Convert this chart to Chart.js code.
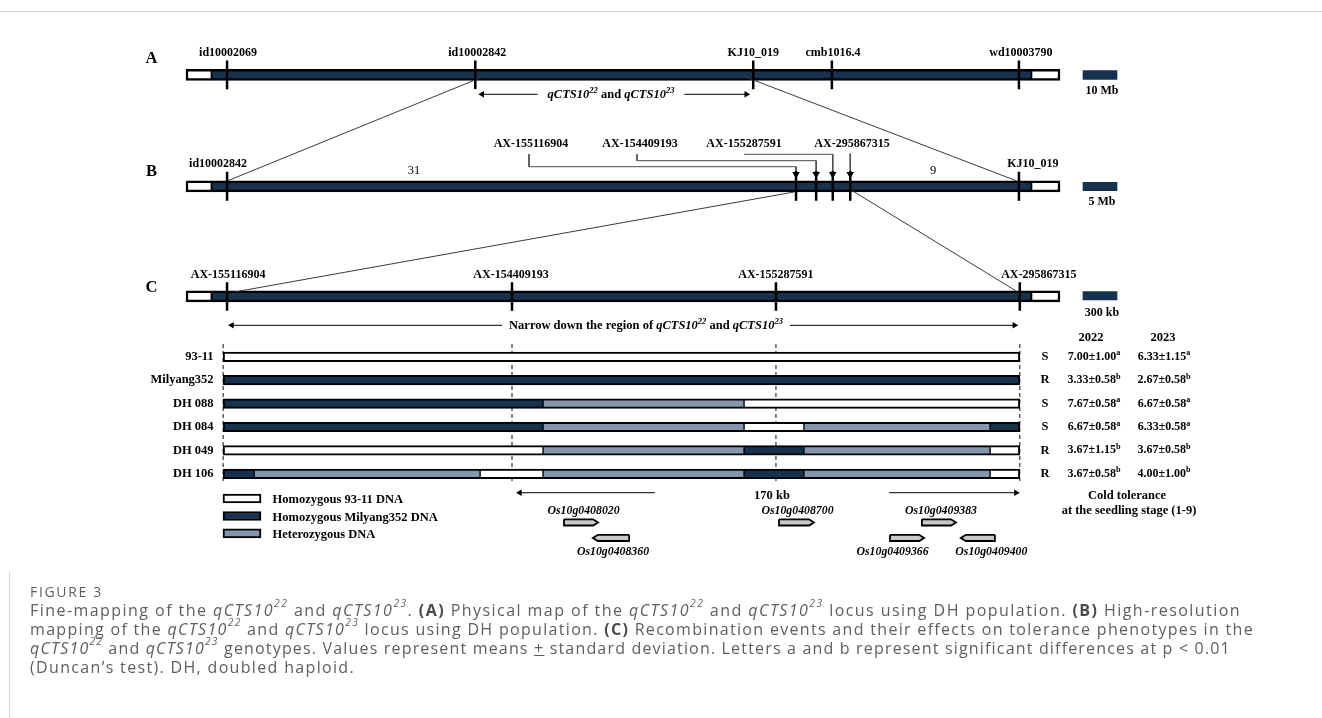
<!DOCTYPE html>
<html>
<head>
<meta charset="utf-8">
<script src="https://cdn.jsdelivr.net/npm/chart.js@4.4.1/dist/chart.umd.min.js"></script>
<style>
html,body{margin:0;padding:0;background:#fff;}
#wrap{position:relative;width:1322px;height:718px;overflow:hidden;background:#fff;}
#c{position:absolute;left:0;top:0;}
#topline{position:absolute;left:0;top:11px;width:1322px;height:0;border-top:1px solid #d6d6d6;}
#leftline{position:absolute;left:9px;top:572px;height:146px;width:0;border-left:1px solid #d6d6d6;}
#cap{position:absolute;left:30px;top:580px;font-family:'Open Sans','Noto Sans',sans-serif;color:#5e5e5e;white-space:nowrap;}
#fig{font-size:14px;line-height:20px;height:20px;display:inline-block;}
.ln{font-size:16px;line-height:19px;height:19px;}
.ln b{color:#4a4a4a;}
.ln sup{font-size:0.64em;line-height:0;position:relative;top:-0.25em;vertical-align:super;}
</style>
</head>
<body>
<div id="wrap">
<canvas id="c" width="1322" height="718"></canvas>
<div id="topline"></div>
<div id="leftline"></div>
<div id="cap">
<div id="fig">FIGURE 3</div>
<div class="ln" style="margin-top:-1px"><span>Fine-mapping of the <i>qCTS10<sup>22</sup></i> and <i>qCTS10<sup>23</sup></i>. <b>(A)</b> Physical map of the <i>qCTS10<sup>22</sup></i> and <i>qCTS10<sup>23</sup></i> locus using DH population. <b>(B)</b> High-resolution</span></div>
<div class="ln"><span>mapping of the <i>qCTS10<sup>22</sup></i> and <i>qCTS10<sup>23</sup></i> locus using DH population. <b>(C)</b> Recombination events and their effects on tolerance phenotypes in the</span></div>
<div class="ln"><span><i>qCTS10<sup>22</sup></i> and <i>qCTS10<sup>23</sup></i> genotypes. Values represent means <u>+</u> standard deviation. Letters a and b represent significant differences at p &lt; 0.01</span></div>
<div class="ln"><span>(Duncan’s test). DH, doubled haploid.</span></div>
</div>
</div>
<script>
// ================= DATA (positions along each map bar, 0–100) =================
const markerNamesA = ['id10002069','id10002842','KJ10_019','cmb1016.4','wd10003790'];
const markerPosA   = [4.7, 33.1, 64.9, 73.9, 95.3];

const markerNamesB = ['id10002842','KJ10_019'];
const markerPosB   = [4.7, 95.3];
const snpNamesB    = ['AX-155116904','AX-154409193','AX-155287591','AX-295867315'];
const snpPosB      = [69.8, 72.1, 74.0, 76.0];
const recombinantsB = ['31','9'];

const markerNamesC = ['AX-155116904','AX-154409193','AX-155287591','AX-295867315'];
const markerPosC   = [4.7, 37.3, 67.5, 95.4];

const scaleLabels = ['10 Mb','5 Mb','300 kb'];

const lineNames   = ['93-11','Milyang352','DH 088','DH 084','DH 049','DH 106'];
const breakpoints = [4.25, 7.8, 33.65, 40.85, 63.85, 70.7, 92.0, 95.4];
// genotype of each interval between breakpoints: W = 93-11, M = Milyang352, H = heterozygous
const genotypes = [
  ['W','W','W','W','W','W','W'],
  ['M','M','M','M','M','M','M'],
  ['M','M','M','H','W','W','W'],
  ['M','M','M','H','W','H','M'],
  ['W','W','W','H','M','H','W'],
  ['M','H','W','H','M','H','W']
];
const reaction  = ['S','R','S','S','R','R'];
const mean2022  = ['7.00','3.33','7.67','6.67','3.67','3.67'];
const sd2022    = ['1.00','0.58','0.58','0.58','1.15','0.58'];
const group2022 = ['a','b','a','a','b','b'];
const mean2023  = ['6.33','2.67','6.67','6.33','3.67','4.00'];
const sd2023    = ['1.15','0.58','0.58','0.58','0.58','1.00'];
const group2023 = ['a','b','a','a','b','b'];

const legendLabels = ['Homozygous 93-11 DNA','Homozygous Milyang352 DNA','Heterozygous DNA'];
const legendCodes  = ['W','M','H'];

const geneNames  = ['Os10g0408020','Os10g0408360','Os10g0408700','Os10g0409383','Os10g0409366','Os10g0409400'];
const geneStart  = [43.25, 46.55, 67.85, 84.2, 80.55, 88.65];
const geneEnd    = [47.15, 50.7, 71.85, 88.1, 84.45, 92.55];
const geneStrand = ['+','-','+','+','+','-'];
const geneTrack  = [0, 1, 0, 0, 1, 1];

// ================= LAYOUT / STYLE =================
const NAVY = '#17324f', HET = '#8597ae';
const FILL = {W:'#ffffff', M:NAVY, H:HET};
const PX0 = 186, PXU = 8.74;            // pixel of map position 0, pixels per map unit
const U  = px => (px - PX0) / PXU;       // pixel -> map unit
const du = px => px / PXU;               // pixel length -> unit length
const SERIF = "'Liberation Serif','Times New Roman',Times,serif";
const rowY = i => 356.8 + i * 23.4;

const datasets = [];
function bar(x0, x1, yc, th, fill, bc, bw, order) {
  datasets.push({type:'bar', indexAxis:'y', grouped:false, data:[{x:[x0, x1], y:yc}],
    backgroundColor:fill, borderColor:bc, borderWidth:bw, borderSkipped:false,
    barThickness:th, order: order === undefined ? 5 : order});
}
function line(pts, color, w, dash, order) {
  datasets.push({type:'line', showLine:true, data:pts.map(p => ({x:p[0], y:p[1]})),
    borderColor:color, borderWidth:w, borderDash:dash || [], pointRadius:0, fill:false,
    tension:0, borderCapStyle:'butt', order: order === undefined ? 2 : order});
}
function tri(pts, rot, r) {
  datasets.push({type:'scatter', data:pts.map(p => ({x:p[0], y:p[1]})), pointStyle:'triangle',
    pointRotation:rot, pointRadius:r, pointBackgroundColor:'#000', pointBorderColor:'#000',
    pointBorderWidth:0, order:0});
}
function poly(pts, fill, bc, w) {
  datasets.push({type:'line', showLine:true, data:pts.map(p => ({x:p[0], y:p[1]})),
    borderColor:bc, backgroundColor:fill, borderWidth:w, fill:'shape', pointRadius:0,
    tension:0, borderJoinStyle:'miter', order:1});
}

// ---- text helpers ----
const texts = [];
function R(s) { return typeof s === 'string' ? [{t:s}] : s; }
function T(runs, x, y, size, align) { texts.push({runs:R(runs), x, y, size, align: align || 'center'}); }
function fnt(r, size) { return (r.it ? 'italic ' : '') + (r.b === 0 ? '' : 'bold ') + size + 'px ' + SERIF; }
function runsW(ctx, runs, size) {
  let w = 0;
  for (const r of runs) { ctx.font = fnt(r, r.sup ? size * 0.68 : size); w += ctx.measureText(r.t).width; }
  return w;
}
function drawRuns(ctx, runs, x, y, size, align) {
  const w = runsW(ctx, runs, size);
  let cx = align === 'center' ? x - w / 2 : align === 'right' ? x - w : x;
  for (const r of runs) {
    const s = r.sup ? size * 0.68 : size;
    ctx.font = fnt(r, s);
    ctx.fillText(r.t, cx, r.sup ? y - size * 0.3 : y);
    cx += ctx.measureText(r.t).width;
  }
}
const mctx = document.createElement('canvas').getContext('2d');
const qtl = () => [{t:'qCTS10', it:1}, {t:'22', it:1, sup:1}, {t:' and '}, {t:'qCTS10', it:1}, {t:'23', it:1, sup:1}];

function arrow(xL, xR, y, runs, size, centerPx, gap, ty) {
  const w = runsW(mctx, runs, size);
  const r = 3.8;
  line([[xL + du(r), y], [U(centerPx - w / 2 - gap), y]], '#000', 1);
  line([[U(centerPx + w / 2 + gap), y], [xR - du(r), y]], '#000', 1);
  tri([[xL + du(r), y]], -90, r);
  tri([[xR - du(r), y]], 90, r);
  T(runs, U(centerPx), ty === undefined ? y : ty, size, 'center');
}

function chromosome(yc) {
  bar(0, 2.95, yc, 11, '#fff', '#000', {top:2.5, bottom:2.5, left:2.5, right:1.5});
  bar(2.95, 96.7, yc, 11, NAVY, '#000', {top:2.5, bottom:2.5, left:1, right:1});
  bar(96.7, 100, yc, 11, '#fff', '#000', {top:2.5, bottom:2.5, left:1.5, right:2.5});
}

// ================= PANEL A =================
const yA = 74.8, yB = 186.3, yC = 296.4;
chromosome(yA);
markerPosA.forEach(p => line([[p, yA - 14.2], [p, yA + 14.4]], '#000', 2.5, null, 1));
const offA = [1, 2, 0, 1, 2];
markerNamesA.forEach((n, i) => T(n, markerPosA[i] + du(offA[i]), 53, 12));
T('A', U(151.5), 58.5, 16.5);
arrow(markerPosA[1] + du(3), markerPosA[2] - du(3), 94.3, qtl(), 12.5, 611, 10);
bar(U(1083), U(1117), 75, 8.6, NAVY, NAVY, 0);
T(scaleLabels[0], U(1102), 90.7, 12);

// connectors A -> B
line([[markerPosA[1] + du(7), 77], [markerPosB[0], 181]], '#3a3a3a', 1);
line([[markerPosA[2] - du(9), 76.5], [markerPosB[1] - du(2), 181]], '#3a3a3a', 1);

// ================= PANEL B =================
chromosome(yB);
markerPosB.forEach(p => line([[p, yB - 14.6], [p, yB + 14.4]], '#000', 2.5, null, 1));
const offB = [-9, 14];
markerNamesB.forEach((n, i) => T(n, markerPosB[i] + du(offB[i]), 164, 12));
T('B', U(151.5), 172, 16.5);
snpPosB.forEach(p => line([[p, 171], [p, yB + 14.4]], '#000', 2.5, null, 1));
tri(snpPosB.map(p => [p, 174.2]), 180, 4.4);
const snpLabelPx = [531, 640, 744, 852];
const leaderPx   = [529, 637, 744, 850];
const leaderY    = [166.7, 160.7, 154.3, null];
snpNamesB.forEach((n, i) => {
  T(n, U(snpLabelPx[i]), 144.3, 12);
  if (leaderY[i] === null) line([[snpPosB[i], 153.5], [snpPosB[i], 171]], '#4a4a4a', 1);
  else line([[U(leaderPx[i]), Math.min(154.3, leaderY[i])], [U(leaderPx[i]), leaderY[i]], [snpPosB[i], leaderY[i]], [snpPosB[i], 171]], '#4a4a4a', 1);
});
T([{t:recombinantsB[0], b:0}], U(414), 170.7, 12.5);
T([{t:recombinantsB[1], b:0}], U(933), 170.7, 12.5);
bar(U(1083), U(1117), 186.5, 8.4, NAVY, NAVY, 0);
T(scaleLabels[1], U(1102), 201.7, 12);

// connectors B -> C
line([[snpPosB[0] - du(2), 192], [markerPosC[0] + du(9), 291.7]], '#3a3a3a', 1);
line([[snpPosB[3] - du(4), 187], [markerPosC[3] - du(2.5), 291.7]], '#3a3a3a', 1);

// ================= PANEL C =================
chromosome(yC);
markerPosC.forEach(p => line([[p, yC - 14.1], [p, yC + 14.3]], '#000', 2.5, null, 1));
const offC = [1, -1, 0, 19];
markerNamesC.forEach((n, i) => T(n, markerPosC[i] + du(offC[i]), 275, 12));
T('C', U(151.5), 288, 16.5);
bar(U(1083), U(1117), 295.8, 8.3, NAVY, NAVY, 0);
T(scaleLabels[2], U(1102), 312.7, 12);
arrow(markerPosC[0] + du(1), markerPosC[3] - du(1.5), 325.3,
  [{t:'Narrow down the region of '}].concat(qtl()), 12.5, 646, 7);

// header
T('2022', U(1091), 337.7, 12.5);
T('2023', U(1163), 337.7, 12.5);

// dashed guides
[breakpoints[0], markerPosC[1], markerPosC[2], breakpoints[breakpoints.length - 1]].forEach(p =>
  line([[p, 344], [p, 484]], '#222', 1.1, [4, 3], 9));

// genotype rows
genotypes.forEach((g, i) => {
  const y = rowY(i);
  const segs = [];
  g.forEach((c, k) => {
    if (segs.length && segs[segs.length - 1].c === c) segs[segs.length - 1].e = breakpoints[k + 1];
    else segs.push({s:breakpoints[k], e:breakpoints[k + 1], c});
  });
  segs.forEach((s, j) => bar(s.s, s.e, y, 9.5, FILL[s.c], '#000',
    {top:2, bottom:2, left: j === 0 ? 2 : 1, right: j === segs.length - 1 ? 2 : 1}));
  T(lineNames[i], U(213.6), y, 12.5, 'right');
  T(reaction[i], U(1045), y, 12.5);
  T([{t:mean2022[i] + '±' + sd2022[i]}, {t:group2022[i], sup:1}], U(1094), y, 12);
  T([{t:mean2023[i] + '±' + sd2023[i]}, {t:group2023[i], sup:1}], U(1164), y, 12);
});

// 170 kb arrow
arrow(markerPosC[1] + du(4), breakpoints[breakpoints.length - 1], 492.7, '170 kb', 12.5, 772, 8, 495.5);

T('Cold tolerance', U(1127), 495.5, 12.5);
T('at the seedling stage (1-9)', U(1129), 510.7, 12.5);

// legend
const legY = [498.5, 516, 533.3];
const legTY = [500, 517.3, 534.7];
legendLabels.forEach((l, i) => {
  bar(U(223), U(261), legY[i], 9, FILL[legendCodes[i]], '#000', 2);
  T(l, U(272.5), legTY[i], 12.5, 'left');
});

// genes
const trackY = [522.4, 537.9];
const labelY = [510.5, 551.7];
const labelDx = [2.5, 2, 1, 2, -14.5, 13.5];
geneNames.forEach((n, i) => {
  const s = geneStart[i], e = geneEnd[i], yc = trackY[geneTrack[i]], h = 3.1, tip = du(5);
  const pts = geneStrand[i] === '+'
    ? [[s, yc - h], [e - tip, yc - h], [e, yc], [e - tip, yc + h], [s, yc + h], [s, yc - h]]
    : [[e, yc - h], [s + tip, yc - h], [s, yc], [s + tip, yc + h], [e, yc + h], [e, yc - h]];
  poly(pts, '#c9c9c9', '#000', 1.8);
  T([{t:n, it:1}], (s + e) / 2 + du(labelDx[i]), labelY[geneTrack[i]], 11.8);
});

// ================= CHART =================
const textPlugin = {
  id: 'mapText',
  afterDatasetsDraw(chart) {
    const ctx = chart.ctx, xs = chart.scales.x, ys = chart.scales.y;
    ctx.save();
    ctx.fillStyle = '#000';
    ctx.textBaseline = 'middle';
    ctx.textAlign = 'left';
    for (const t of texts) drawRuns(ctx, t.runs, xs.getPixelForValue(t.x), ys.getPixelForValue(t.y), t.size, t.align);
    ctx.restore();
  }
};

new Chart(document.getElementById('c'), {
  type: 'scatter',
  data: {datasets},
  options: {
    responsive: false,
    animation: false,
    devicePixelRatio: 1,
    events: [],
    layout: {padding: 0, autoPadding: false},
    plugins: {legend: {display: false}, tooltip: {enabled: false}, title: {display: false}},
    scales: {
      x: {type: 'linear', display: false, offset: false, beginAtZero: false, grace: 0, min: U(0), max: U(1322), grid: {offset: false}},
      y: {type: 'linear', display: false, offset: false, beginAtZero: false, grace: 0, min: 0, max: 718, reverse: true, grid: {offset: false}}
    }
  },
  plugins: [textPlugin]
});

// fit each caption line to the width it has in the figure
(function fitCaption() {
  const targets = [1211, 1224, 1201, 325];
  document.querySelectorAll('.ln').forEach((el, i) => {
    const s = el.firstElementChild;
    const w = s.getBoundingClientRect().width;
    const n = s.textContent.length;
    el.style.letterSpacing = ((targets[i] - w) / n).toFixed(3) + 'px';
  });
  const f = document.getElementById('fig');
  const fw = f.getBoundingClientRect().width;
  f.style.letterSpacing = ((73 - fw) / f.textContent.length).toFixed(3) + 'px';
})();
</script>
</body>
</html>
